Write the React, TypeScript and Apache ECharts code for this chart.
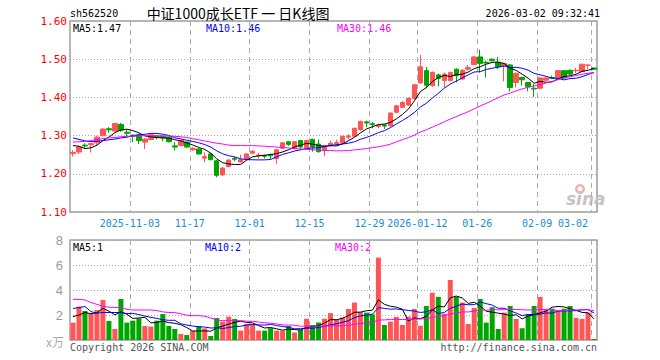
import React, { useEffect, useRef } from 'react';
import * as echarts from 'echarts';

const dates = [
  '2025-10-20','2025-10-21','2025-10-22','2025-10-23','2025-10-24','2025-10-27','2025-10-28','2025-10-29','2025-10-30','2025-10-31',
  '2025-11-03','2025-11-04','2025-11-05','2025-11-06','2025-11-07','2025-11-10','2025-11-11','2025-11-12','2025-11-13','2025-11-14',
  '2025-11-17','2025-11-18','2025-11-19','2025-11-20','2025-11-21','2025-11-24','2025-11-25','2025-11-26','2025-11-27','2025-11-28',
  '2025-12-01','2025-12-02','2025-12-03','2025-12-04','2025-12-05','2025-12-08','2025-12-09','2025-12-10','2025-12-11','2025-12-12',
  '2025-12-15','2025-12-16','2025-12-17','2025-12-18','2025-12-19','2025-12-22','2025-12-23','2025-12-24','2025-12-25','2025-12-26',
  '2025-12-29','2025-12-30','2025-12-31','2026-01-05','2026-01-06','2026-01-07','2026-01-08','2026-01-09',
  '2026-01-12','2026-01-13','2026-01-14','2026-01-15','2026-01-16','2026-01-19','2026-01-20','2026-01-21','2026-01-22','2026-01-23',
  '2026-01-26','2026-01-27','2026-01-28','2026-01-29','2026-01-30','2026-02-02','2026-02-03','2026-02-04','2026-02-05','2026-02-06',
  '2026-02-09','2026-02-10','2026-02-11','2026-02-12','2026-02-13','2026-02-24','2026-02-25','2026-02-26','2026-02-27',
  '2026-03-02'
];

const opens = [
  1.253,1.257,1.275,1.276,1.281,1.300,1.318,1.312,1.329,1.309,
  1.301,1.302,1.283,1.290,1.298,1.298,1.296,1.273,1.274,1.283,
  1.263,1.265,1.241,1.252,1.234,1.197,1.219,1.240,1.231,1.238,
  1.254,1.247,1.248,1.250,1.240,1.267,1.284,1.266,1.287,1.268,
  1.290,1.278,1.261,1.274,1.279,1.281,1.296,1.298,1.316,1.336,
  1.331,1.324,1.328,1.326,1.361,1.374,1.380,1.397,
  1.438,1.470,1.431,1.459,1.444,1.444,1.474,1.448,1.474,1.486,
  1.506,1.492,1.500,1.492,1.483,1.485,1.439,1.452,1.439,1.424,
  1.424,1.445,1.452,1.452,1.470,1.471,1.470,1.468,1.484,
  1.477
];
const closes = [
  1.256,1.270,1.273,1.279,1.296,1.317,1.315,1.332,1.314,1.306,
  1.298,1.287,1.291,1.302,1.296,1.294,1.284,1.270,1.287,1.270,
  1.266,1.252,1.245,1.237,1.196,1.215,1.236,1.238,1.237,1.252,
  1.259,1.249,1.246,1.247,1.263,1.281,1.277,1.284,1.270,1.287,
  1.270,1.258,1.274,1.280,1.282,1.298,1.299,1.319,1.337,1.333,
  1.329,1.327,1.325,1.359,1.378,1.387,1.397,1.433,
  1.480,1.432,1.465,1.450,1.461,1.465,1.457,1.471,1.478,1.506,
  1.489,1.490,1.496,1.480,1.489,1.426,1.463,1.446,1.428,1.422,
  1.451,1.451,1.450,1.470,1.451,1.461,1.471,1.487,1.485,
  1.474
];
const lows = [
  1.245,1.252,1.265,1.256,1.275,1.298,1.308,1.310,1.310,1.298,
  1.283,1.278,1.265,1.288,1.290,1.285,1.282,1.261,1.272,1.268,
  1.260,1.250,1.230,1.235,1.191,1.195,1.217,1.233,1.229,1.236,
  1.252,1.240,1.240,1.238,1.226,1.265,1.273,1.264,1.263,1.266,
  1.258,1.255,1.246,1.270,1.274,1.279,1.290,1.296,1.313,1.322,
  1.319,1.319,1.317,1.322,1.359,1.372,1.378,1.395,
  1.436,1.424,1.428,1.429,1.426,1.442,1.439,1.446,1.470,1.484,
  1.465,1.452,1.494,1.474,1.442,1.416,1.426,1.431,1.416,1.401,
  1.421,1.444,1.448,1.450,1.449,1.459,1.464,1.466,1.474,
  1.473
];
const highs = [
  1.262,1.274,1.280,1.280,1.300,1.320,1.322,1.333,1.333,1.316,
  1.303,1.305,1.293,1.305,1.300,1.300,1.297,1.283,1.290,1.285,
  1.270,1.266,1.256,1.255,1.236,1.218,1.238,1.245,1.250,1.254,
  1.262,1.255,1.250,1.253,1.265,1.283,1.285,1.286,1.289,1.289,
  1.292,1.290,1.276,1.287,1.289,1.300,1.304,1.321,1.339,1.339,
  1.335,1.331,1.330,1.361,1.380,1.390,1.400,1.435,
  1.511,1.480,1.468,1.462,1.465,1.468,1.476,1.474,1.485,1.508,
  1.525,1.496,1.502,1.506,1.490,1.487,1.465,1.454,1.440,1.435,
  1.452,1.452,1.457,1.471,1.471,1.473,1.477,1.488,1.487,
  1.477
];
// volume, unit: 万
const volumes = [
  1.39,2.67,2.32,2.08,2.40,3.20,1.52,0.88,3.28,1.39,
  1.55,1.73,1.12,1.07,1.55,2.08,1.12,0.88,0.48,0.40,
  0.72,1.12,0.93,0.32,1.76,1.47,1.87,1.68,0.75,1.28,
  1.28,0.75,0.75,0.95,0.75,0.75,1.12,0.60,0.80,1.70,
  1.20,1.40,1.70,2.15,1.65,1.80,2.48,2.99,2.24,2.19,
  2.05,6.59,1.20,1.47,1.84,1.20,1.87,2.48,
  1.14,2.72,3.78,3.45,2.10,4.80,3.47,2.99,1.28,2.56,
  3.28,1.39,2.62,0.88,2.19,2.72,1.68,0.94,2.06,2.72,
  3.45,2.40,2.50,2.36,2.50,2.72,1.78,1.68,2.20,
  0.08
];

// moving-average values before a full window exists
const priceMA5Head = [1.274, 1.272, 1.266, 1.268];
const priceMA10Head = [1.294, 1.290, 1.286, 1.284, 1.285, 1.287, 1.289, 1.291, 1.294];
const priceMA30Head = [
  1.283,1.284,1.285,1.287,1.290,1.292,1.294,1.295,1.297,1.298,
  1.299,1.299,1.300,1.300,1.300,1.299,1.299,1.298,1.297,1.295,
  1.292,1.289,1.286,1.283,1.280,1.278,1.275,1.274,1.274
];
const volMA5Head = [1.87, 2.0, 2.2, 2.1];
const volMA10Head = [2.52, 2.6, 2.68, 2.27, 2.15, 2.2, 2.2, 2.2, 2.2];
const volMA30Head = [
  3.25,3.25,3.2,3.0,2.85,2.7,2.62,2.61,2.6,2.45,
  2.4,2.4,2.4,2.4,2.35,2.25,2.2,2.19,2.1,1.98,
  1.95,1.95,1.9,1.75,1.6,1.55,1.55,1.55,1.55
];

const markIdx = [10, 20, 30, 40, 50, 58, 68, 78, 87];
const fullDateIdx = [10, 58];

const priceLegend = ['MA5:1.47', 'MA10:1.46', 'MA30:1.46'];
const volLegend = ['MA5:1', 'MA10:2', 'MA30:2'];

const RED = '#ff5555';
const GREEN = '#00a600';
const MONO = '"DejaVu Sans Mono", monospace';

function movingAvg(values: number[], n: number, head: number[]) {
  return values.map((_, i) => {
    if (i < n - 1) return head[i];
    let s = 0;
    for (let k = i - n + 1; k <= i; k++) s += values[k];
    return +(s / n).toFixed(4);
  });
}

export default function App() {
  const ref = useRef<HTMLDivElement>(null);
  useEffect(() => {
    if (!ref.current) return;
    const chart = echarts.init(ref.current, undefined, { renderer: 'svg' });
    const candleData = dates.map((_, i) => [opens[i], closes[i], lows[i], highs[i]]);
    const volData = volumes.map((v, i) => ({
      value: v,
      itemStyle: { color: closes[i] >= opens[i] ? RED : GREEN },
    }));
    const isMark = (idx: number) => markIdx.includes(idx);
    const vSplit = {
      show: true,
      interval: (idx: number) => isMark(idx),
      lineStyle: { color: '#aaaaaa', type: [5, 4] as any, width: 1 },
    };
    const hSplit = { show: true, lineStyle: { color: '#aaaaaa', type: [1, 2] as any, width: 1 } };
    const gridBorder = { show: true, borderColor: '#a0a0a0', borderWidth: 1.5, backgroundColor: 'transparent' };
    const lineS = (name: string, data: number[], color: string, xi: number) => ({
      name, type: 'line', data, xAxisIndex: xi, yAxisIndex: xi, symbol: 'none', z: 5,
      lineStyle: { color, width: 1 }, itemStyle: { color }, silent: true,
    });
    const txt = (text: string, x: number, y: number, fill: string, font: string, align = 'left') => ({
      type: 'text', x, y, silent: true,
      style: { text, fill, font, textAlign: align, textVerticalAlign: 'middle' },
    });

    chart.setOption({
      animation: false,
      backgroundColor: '#ffffff',
      grid: [
        { left: 70, top: 21, width: 527, height: 191, ...gridBorder },
        { left: 70, top: 240, width: 527, height: 100, ...gridBorder },
      ],
      xAxis: [
        {
          type: 'category', gridIndex: 0, data: dates, boundaryGap: true,
          axisLine: { show: false }, axisTick: { show: false },
          axisLabel: {
            interval: (idx: number) => isMark(idx),
            formatter: (v: string, idx: number) => (fullDateIdx.includes(idx) ? v : v.slice(5)),
            color: '#1b8ad6', fontFamily: MONO, fontSize: 10, margin: 6,
            padding: [0, 6, 0, 0],
            alignMaxLabel: 'right',
          },
          splitLine: vSplit,
        },
        {
          type: 'category', gridIndex: 1, data: dates, boundaryGap: true,
          axisLine: { show: false }, axisTick: { show: false }, axisLabel: { show: false },
          splitLine: vSplit,
        },
      ],
      yAxis: [
        {
          type: 'value', gridIndex: 0, min: 1.1, max: 1.6, interval: 0.1, scale: true,
          axisLine: { show: false }, axisTick: { show: false },
          axisLabel: { color: '#ff0000', fontFamily: MONO, fontSize: 11, margin: 3, formatter: (v: number) => v.toFixed(2) },
          splitLine: hSplit,
        },
        {
          type: 'value', gridIndex: 1, min: 0, max: 8, interval: 2,
          axisLine: { show: false }, axisTick: { show: false },
          axisLabel: { color: '#999999', fontFamily: '"Liberation Sans", sans-serif', fontSize: 13, margin: 7,
            formatter: (v: number) => (v === 0 ? '' : String(v)) },
          splitLine: hSplit,
        },
      ],
      series: [
        {
          name: 'K', type: 'candlestick', xAxisIndex: 0, yAxisIndex: 0, data: candleData, barWidth: 5,
          itemStyle: { color: RED, color0: GREEN, borderColor: RED, borderColor0: GREEN, borderWidth: 1 },
          silent: true,
        },
        lineS('MA5', movingAvg(closes, 5, priceMA5Head), '#000000', 0),
        lineS('MA10', movingAvg(closes, 10, priceMA10Head), '#0000ff', 0),
        lineS('MA30', movingAvg(closes, 30, priceMA30Head), '#ff00ff', 0),
        { name: 'VOL', type: 'bar', xAxisIndex: 1, yAxisIndex: 1, data: volData, barWidth: 5, silent: true },
        lineS('VMA5', movingAvg(volumes, 5, volMA5Head), '#000000', 1),
        lineS('VMA10', movingAvg(volumes, 10, volMA10Head), '#0000ff', 1),
        lineS('VMA30', movingAvg(volumes, 30, volMA30Head), '#ff00ff', 1),
      ],
      graphic: [
        txt('sh562520', 70, 13, '#000000', `10px ${MONO}`),
        txt('中证1000成长ETF 一 日K线图', 238, 13, '#000000', '14px "Noto Sans CJK SC"', 'center'),
        txt('2026-03-02 09:32:41', 600, 13, '#000000', `10px ${MONO}`, 'right'),
        txt(priceLegend[0], 73, 28, '#000000', `10px ${MONO}`),
        txt(priceLegend[1], 206, 28, '#0000ff', `10px ${MONO}`),
        txt(priceLegend[2], 337, 28, '#ff00ff', `10px ${MONO}`),
        txt(volLegend[0], 73, 247, '#000000', `10px ${MONO}`),
        txt(volLegend[1], 205, 247, '#0000ff', `10px ${MONO}`),
        txt(volLegend[2], 335, 247, '#ff00ff', `10px ${MONO}`),
        txt('x万', 64, 341, '#aaaaaa', '12px "Noto Sans CJK SC"', 'right'),
        txt('Copyright 2026 SINA.COM', 70, 347, '#555555', `10px ${MONO}`),
        txt('http://finance.sina.com.cn', 597, 347, '#555555', `10px ${MONO}`, 'right'),
        { type: 'ring', silent: true, shape: { cx: 580, cy: 189, r: 5, r0: 2.5 }, style: { fill: '#f3b0b0' } },
        txt('sina', 566, 199, '#c4c4c4', 'italic bold 17px "DejaVu Sans"'),
      ],
    });
    return () => chart.dispose();
  }, []);
  return <div ref={ref} style={{ position: 'fixed', left: 0, top: 0, width: 660, height: 360 }} />;
}
